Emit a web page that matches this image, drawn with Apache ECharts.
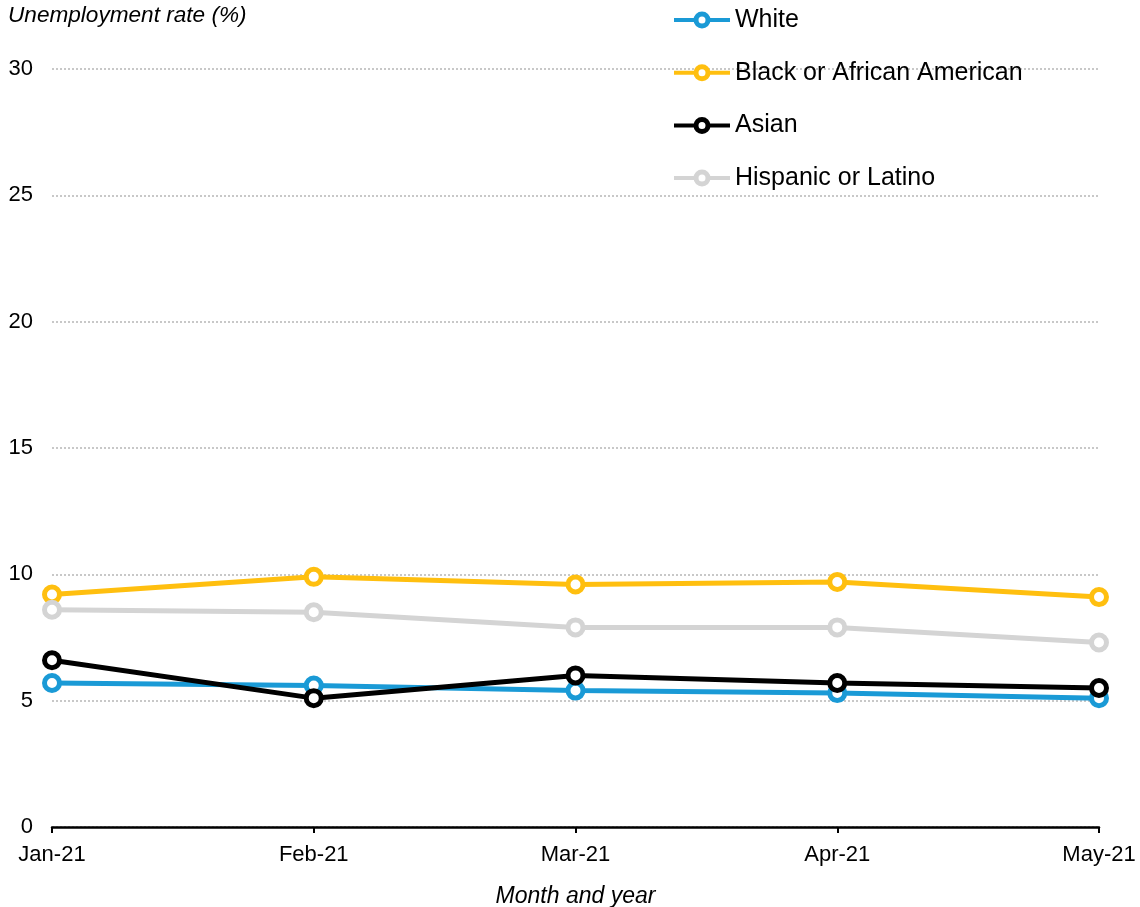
<!DOCTYPE html>
<html><head><meta charset="utf-8">
<script src="https://cdn.jsdelivr.net/npm/echarts@6/dist/echarts.min.js"></script>
<style>html,body{margin:0;padding:0;background:#fff}#c{width:1140px;height:907px}</style>
</head><body><div id="c"></div>
<script>
const categories = ['Jan-21','Feb-21','Mar-21','Apr-21','May-21'];
const white = [5.7, 5.6, 5.4, 5.3, 5.1];
const black = [9.2, 9.9, 9.6, 9.7, 9.1];
const asian = [6.6, 5.1, 6.0, 5.7, 5.5];
const hispanic = [8.6, 8.5, 7.9, 7.9, 7.3];
const seriesNames = ['White','Black or African American','Asian','Hispanic or Latino'];
const colors = ['#1a9ad6','#ffbf0f','#000000','#d4d4d4'];
const font = 'Liberation Sans, Arial, sans-serif';

const chart = echarts.init(document.getElementById('c'));
const mk = (name, data, color) => ({
  name, type: 'line', data,
  symbol: 'circle', symbolSize: 15, showAllSymbol: true,
  lineStyle: {color, width: 5},
  itemStyle: {color: '#fff', borderColor: color, borderWidth: 5},
  emphasis: {disabled: true}
});
chart.setOption({
  animation: false,
  color: colors,
  textStyle: {fontFamily: font},
  grid: {left: 52, right: 41, top: 69, bottom: 80, containLabel: false, outerBoundsMode: 'none'},
  legend: {
    orient: 'vertical', left: 667, top: 2.5,
    itemWidth: 56, itemHeight: 15, itemGap: 27.7,
    lineStyle: {width: 4},
    itemStyle: {borderWidth: 5},
    textStyle: {fontSize: 25, color: '#000', fontFamily: font},
    data: seriesNames
  },
  xAxis: {
    type: 'category', data: categories, boundaryGap: false,
    name: 'Month and year', nameLocation: 'middle', nameGap: 58,
    nameTextStyle: {fontStyle: 'italic', fontSize: 23, color: '#000', fontFamily: font},
    axisLine: {lineStyle: {color: '#000', width: 2.5}},
    axisTick: {show: true, alignWithLabel: true, length: 6, lineStyle: {color: '#000', width: 2}},
    axisLabel: {fontSize: 22, color: '#000', margin: 17, fontFamily: font}
  },
  yAxis: {
    type: 'value', min: 0, max: 30, interval: 5,
    axisLine: {show: false}, axisTick: {show: false},
    axisLabel: {fontSize: 22, color: '#000', margin: 19, fontFamily: font},
    splitLine: {lineStyle: {color: '#c8c8c8', type: [2,2], width: 2}}
  },
  graphic: [{
    type: 'text', left: 8, top: 4,
    style: {text: 'Unemployment rate (%)', fontStyle: 'italic', fontSize: 22.6, fill: '#000', fontFamily: font}
  }],
  series: [
    mk(seriesNames[0], white, colors[0]),
    mk(seriesNames[1], black, colors[1]),
    mk(seriesNames[2], asian, colors[2]),
    mk(seriesNames[3], hispanic, colors[3])
  ]
});
</script></body></html>
